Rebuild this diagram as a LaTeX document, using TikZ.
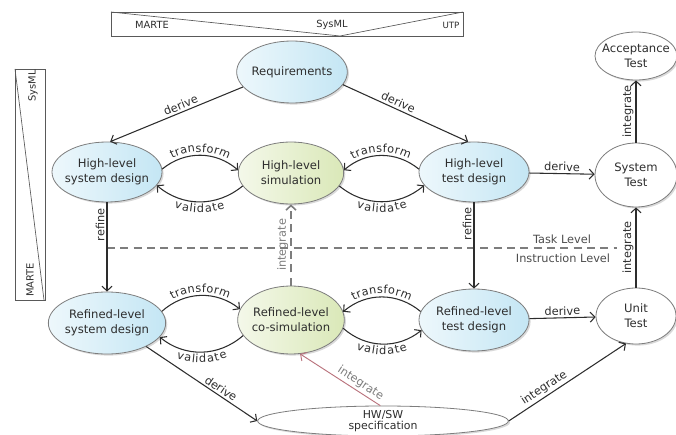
\documentclass[tikz,border=0pt]{standalone}
\usepackage{fontspec}
\setmainfont{DejaVu Sans}
\usetikzlibrary{arrows.meta,shapes.geometric,shadows,decorations.text}

\definecolor{stateblue}{RGB}{196,230,244}
\definecolor{stategreen}{RGB}{218,232,184}
\definecolor{stateline}{RGB}{125,125,125}
\definecolor{textdark}{RGB}{45,45,45}
\definecolor{levelgray}{RGB}{125,125,125}
\definecolor{intpink}{RGB}{185,115,125}

\newcommand{\nodefont}{\fontsize{8.7}{11.2}\selectfont}
\newcommand{\lblfont}{\fontsize{8.5}{10}\selectfont}
\newcommand{\boxfont}{\fontsize{7.4}{8.5}\selectfont}

\begin{document}
\begin{tikzpicture}[x=0.75pt,y=-0.75pt,->,>={Straight Barb[length=3.5pt,width=7.5pt]},
                    line width=0.8pt,draw=textdark]
  \tikzset{phase/.style={ellipse,draw=stateline,line width=0.6pt,text=textdark,font=\nodefont,
             align=center,inner xsep=-6pt,inner ysep=0pt,
             drop shadow={shadow xshift=1.2pt,shadow yshift=-1.2pt,opacity=0.3}},
           bluephase/.style={phase,left color=stateblue!30!white,right color=stateblue},
           greenphase/.style={phase,left color=stategreen!30!white,right color=stategreen},
           whitephase/.style={phase,fill=white},
           lbl/.style={font=\lblfont,text=textdark,sloped,above,inner sep=1.5pt},
           vlbl/.style={font=\lblfont,text=textdark,rotate=90,anchor=south,inner sep=1.5pt},
           boxline/.style={-,draw=black!65,line width=0.5pt},
           boxlbl/.style={font=\boxfont,text=textdark,inner sep=0pt},
           levellbl/.style={font=\lblfont,text=black!70,inner sep=0pt}}
  \useasboundingbox (0,0) rectangle (676,435);

  % profile boxes
  \draw[boxline] (111,12) rectangle (463,36);
  \draw[boxline] (111,12) -- (340,36) -- (463,12);
  \node[boxlbl] (topmarte) at (152,25) {MARTE};
  \node[boxlbl] (topsysml) at (332,25) {SysML};
  \node[boxlbl,font=\fontsize{6.5}{8}\selectfont] (toputp) at (451,25) {UTP};

  \draw[boxline] (15,69) rectangle (45,300);
  \draw[boxline] (15,69) -- (44,300);
  \node[boxlbl,rotate=90] (sidesysml) at (33,86) {SysML};
  \node[boxlbl,rotate=90] (sidemarte) at (30,280) {MARTE};

  % phases
  \node[bluephase,minimum width=83pt,minimum height=46.5pt]     (requirements) at (292,72)  {Requirements};
  \node[bluephase,minimum width=82.5pt,minimum height=45pt]     (hlsystem)     at (107,172) {High-level\\system design};
  \node[greenphase,minimum width=79pt,minimum height=46.5pt]    (hlsim)        at (291,173) {High-level\\simulation};
  \node[bluephase,minimum width=82.5pt,minimum height=45pt]     (hltest)       at (474,172) {High-level\\test design};
  \node[whitephase,minimum width=61.5pt,minimum height=48pt]    (systemtest)   at (636,175) {System\\Test};
  \node[whitephase,minimum width=61.5pt,minimum height=36pt]    (acceptance)   at (636,56)  {Acceptance\\Test};
  \node[bluephase,minimum width=88pt,minimum height=46.5pt]     (rlsystem)     at (107,323) {Refined-level\\system design};
  \node[greenphase,minimum width=80pt,minimum height=51pt]      (rlcosim)      at (291,320) {Refined-level\\co-simulation};
  \node[bluephase,minimum width=82.5pt,minimum height=46.5pt]   (rltest)       at (474,320) {Refined-level\\test design};
  \node[whitephase,minimum width=60pt,minimum height=42pt]      (unittest)     at (636,316) {Unit\\Test};
  \node[whitephase,minimum width=188pt,minimum height=22.5pt,inner ysep=-4pt,
        font=\fontsize{8.2}{8.8}\selectfont]                   (hwsw)         at (383,421) {HW/SW\\specification};

  % abstraction levels
  \coordinate (levelL) at (107,248);
  \coordinate (levelR) at (617,248);
  \draw[-,levelgray,line width=1.3pt,dash pattern=on 6pt off 4pt] (levelL) -- (levelR);
  \node[levellbl] (tasklvl)  at (562,239) {Task Level};
  \node[levellbl] (instrlvl) at (563,258) {Instruction Level};

  \path (requirements.197) edge node[lbl,pos=.45] {derive} (hlsystem.84)
        (requirements.346) edge node[lbl,pos=.42] {derive} (hltest.101);
  \path (hlsystem) edge node[vlbl,pos=.25] {refine} (rlsystem)
        (hltest)   edge node[vlbl,pos=.25] {refine} (rltest);
  \path (hltest) edge node[lbl] {derive} (systemtest)
        (rltest) edge node[lbl] {derive} (unittest);
  \path (systemtest) edge node[vlbl] {integrate} (acceptance)
        (unittest)   edge node[vlbl] {integrate} (systemtest);
  \path (rlcosim) edge[draw=levelgray,line width=1.2pt,dash pattern=on 6pt off 4pt]
                  node[vlbl,text=levelgray] {integrate} (hlsim);
  \path (rlsystem.329) edge node[lbl,pos=.64] {derive} (hwsw.west)
        (hwsw.east)    edge node[lbl,pos=.34] {integrate} (unittest.250)
        (hwsw.100)     edge[draw=intpink,line width=0.7pt] node[lbl,pos=.3,text=levelgray] {integrate} (rlcosim.285);

  % transform / validate loops
  \path (hlsystem.3)   edge[bend left=40]  (hlsim.177)
        (hlsim.195)    edge[bend left=40]  (hlsystem.345)
        (hltest.177)   edge[bend right=40] (hlsim.3)
        (hlsim.345)    edge[bend right=40] (hltest.195);
  \path (rlsystem.12)  edge[bend left=40]  (rlcosim.168)
        (rlcosim.198)  edge[bend left=40]  (rlsystem.345)
        (rltest.171)   edge[bend right=40] (rlcosim.9)
        (rlcosim.351)  edge[bend right=40] (rltest.191);

  \path[decorate,decoration={text along path,text={|\lblfont|transform},text align=center,raise=2.5pt,text color=textdark}]
    (hlsystem.3) to[bend left=40] (hlsim.177);
  \path[decorate,decoration={text along path,text={|\lblfont|validate},text align=center,raise=-8pt,text color=textdark}]
    (hlsystem.345) to[bend right=40] (hlsim.195);
  \path[decorate,decoration={text along path,text={|\lblfont|transform},text align=center,raise=2.5pt,text color=textdark}]
    (hlsim.3) to[bend left=40] (hltest.177);
  \path[decorate,decoration={text along path,text={|\lblfont|validate},text align=center,raise=-8pt,text color=textdark}]
    (hlsim.345) to[bend right=40] (hltest.195);
  \path[decorate,decoration={text along path,text={|\lblfont|transform},text align=center,raise=2.5pt,text color=textdark}]
    (rlsystem.12) to[bend left=40] (rlcosim.168);
  \path[decorate,decoration={text along path,text={|\lblfont|validate},text align=center,raise=-8pt,text color=textdark}]
    (rlsystem.345) to[bend right=40] (rlcosim.198);
  \path[decorate,decoration={text along path,text={|\lblfont|transform},text align=center,raise=2.5pt,text color=textdark}]
    (rlcosim.9) to[bend left=40] (rltest.171);
  \path[decorate,decoration={text along path,text={|\lblfont|validate},text align=center,raise=-8pt,text color=textdark}]
    (rlcosim.351) to[bend right=40] (rltest.191);
\end{tikzpicture}
\end{document}
